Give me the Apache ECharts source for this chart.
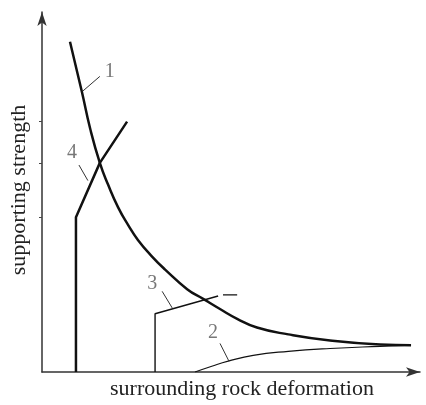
<!DOCTYPE html>
<html>
<head>
<meta charset="utf-8">
<script src="https://cdn.jsdelivr.net/npm/echarts@6/dist/echarts.min.js"></script>
<style>html,body{margin:0;padding:0;background:#fff;}#c{width:426px;height:405px;}</style>
</head>
<body>
<div id="c"></div>
<script>
// Curve 1: surrounding rock characteristic curve
var curve1 = [[0.75,9.13],[1.07,7.74],[1.29,6.73],[1.55,5.78],[1.77,5.18],[2.04,4.55],[2.31,4.06],[2.57,3.65],[2.95,3.19],[3.30,2.83],[3.89,2.29],[4.32,2.02],[4.77,1.74],[5.23,1.47],[5.76,1.23],[6.60,1.04],[7.72,0.87],[9.06,0.76],[9.89,0.74]];
// Curve 2
var curve2 = [[4.10,0],[4.55,0.16],[4.99,0.30],[5.66,0.46],[6.60,0.57],[7.72,0.65],[9.06,0.71],[9.89,0.74]];
// Curve 3 (solid part and short dashed tail)
var curve3 = [[3.03,0],[3.03,1.61],[4.72,2.10]];
var curve3Tail = [[4.85,2.13],[5.23,2.13]];
// Curve 4
var curve4 = [[0.91,0],[0.91,4.28],[1.55,5.78],[2.28,6.92]];
// y-axis tick positions
var yTicks = [4.28, 5.78, 6.92];
// Leader lines: [start on curve, outer end]
var leader1 = [[1.10,7.77],[1.55,8.17]];
var leader2 = [[5.01,0.30],[4.77,0.79]];
var leader3 = [[3.49,1.77],[3.22,2.23]];
var leader4 = [[1.23,5.29],[0.99,5.72]];
var curveNames = ['1','2','3','4'];
var xName = 'surrounding rock deformation';
var yName = 'supporting strength';

var font = "'Liberation Serif','Times New Roman',serif";
function line(data, w, extra) {
  var s = {type:'line', data:data, showSymbol:false, symbol:'none', smooth:false, silent:true,
    lineStyle:{color:'#111', width:w}};
  for (var k in extra) s[k] = extra[k];
  return s;
}
function tag(pt, txt, off) {
  return {type:'scatter', symbolSize:1, itemStyle:{color:'rgba(0,0,0,0)'}, silent:true,
    data:[{value:pt, label:{show:true, position:'inside', offset:off, formatter:txt,
      color:'#555', fontSize:20, fontFamily:font}}]};
}
var chart = echarts.init(document.getElementById('c'), null, {renderer:'canvas'});
chart.setOption({
  animation:false,
  backgroundColor:'#fff',
  grid:{left:42, right:6, top:12, bottom:28},
  xAxis:{type:'value', min:0, max:10.13, name:xName, nameLocation:'middle', nameGap:6,
    nameTextStyle:{fontFamily:font, fontSize:22, color:'#222', padding:[0,0,0,22], verticalAlign:'top'},
    axisLine:{lineStyle:{color:'#333', width:1.5}, symbol:['none','arrow'], symbolSize:[7,14]},
    axisTick:{show:false}, axisLabel:{show:false}, splitLine:{show:false}},
  yAxis:{type:'value', min:0, max:9.95, name:yName, nameLocation:'middle', nameGap:12,
    nameTextStyle:{fontFamily:font, fontSize:22, color:'#222', padding:[0,0,0,4]},
    axisLine:{lineStyle:{color:'#333', width:1.5}, symbol:['none','arrow'], symbolSize:[7,14]},
    axisTick:{show:true, customValues:yTicks, length:3, lineStyle:{color:'#444', width:1}},
    axisLabel:{show:false}, splitLine:{show:false}},
  series:[
    line(curve1, 2.5, {smooth:0.5}),
    line(curve2, 1.2, {smooth:0.5}),
    line(curve3, 1.4),
    line(curve3Tail, 1.2),
    line(curve4, 2.5),
    line(leader1, 1, {lineStyle:{color:'#333', width:1}}),
    line(leader2, 1, {lineStyle:{color:'#333', width:1}}),
    line(leader3, 1, {lineStyle:{color:'#333', width:1}}),
    line(leader4, 1, {lineStyle:{color:'#333', width:1}}),
    tag(leader1[1], curveNames[0], [10,-5]),
    tag(leader2[1], curveNames[1], [-7,-11]),
    tag(leader3[1], curveNames[2], [-10,-8]),
    tag(leader4[1], curveNames[3], [-7,-12])
  ]
});
</script>
</body>
</html>
